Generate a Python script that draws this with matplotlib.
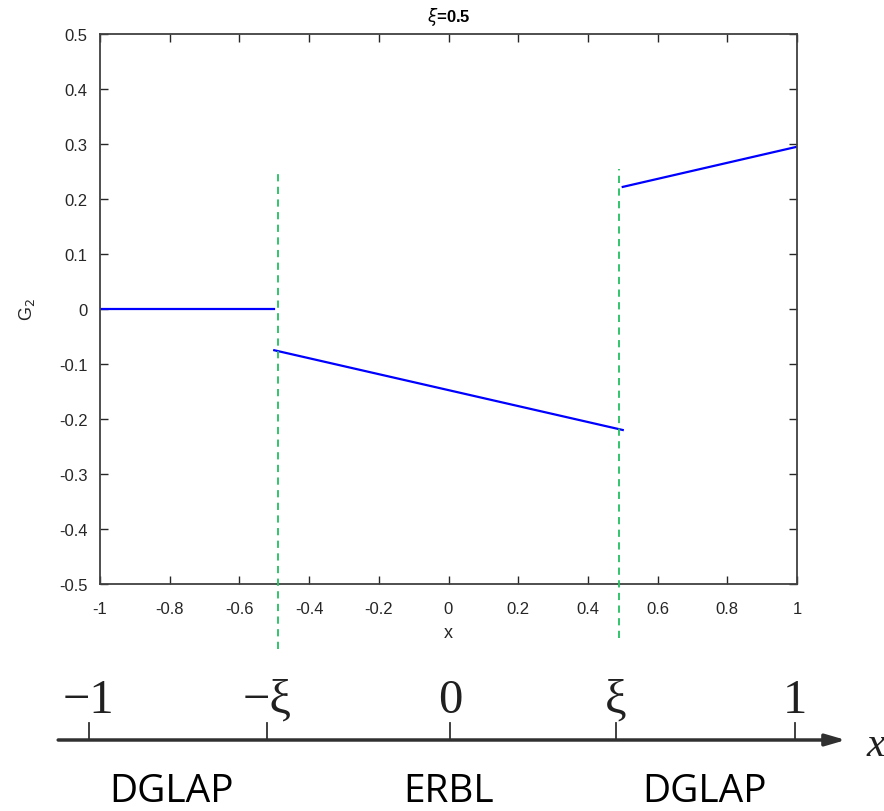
import matplotlib
matplotlib.use("Agg")
import matplotlib.pyplot as plt
import numpy as np

# ---- data ----
seg_dglap_neg_x = [-1.0, -0.5]
seg_dglap_neg_y = [0.0, 0.0]
seg_erbl_x = [-0.5, 0.5]
seg_erbl_y = [-0.075, -0.22]
seg_dglap_pos_x = [0.5, 1.0]
seg_dglap_pos_y = [0.222, 0.295]
xi_lines_x = [-0.49, 0.49]
xi_lines_top = [0.255, 0.255]
xi_lines_bottom = [-0.618, -0.598]
xticks = np.round(np.arange(-1, 1.01, 0.2), 1)
yticks = np.round(np.arange(-0.5, 0.51, 0.1), 1)
title = r"$\mathit{\xi}$=0.5"

schem_pos = [-1.032, -0.521, 0.004, 0.481, 0.994]
schem_labels = ["−1", "−ξ", "0", "ξ", "1"]
region_pos = [-0.795, 0.0, 0.735]
region_labels = ["DGLAP", "ERBL", "DGLAP"]

W, H = 884, 812
fig = plt.figure(figsize=(W / 100, H / 100), dpi=100)
ax = fig.add_axes([100 / W, 227 / H, 697 / W, 550 / H])

def fmt(v):
    s = f"{v:g}"
    return "0" if s in ("-0", "0") else s

ax.plot(seg_dglap_neg_x, seg_dglap_neg_y, color="#0000ff", lw=1.6)
ax.plot(seg_erbl_x, seg_erbl_y, color="#0000ff", lw=1.6)
ax.plot(seg_dglap_pos_x, seg_dglap_pos_y, color="#0000ff", lw=1.6)
for xv, yt, yb in zip(xi_lines_x, xi_lines_top, xi_lines_bottom):
    ax.plot([xv, xv], [yb, yt], color="#22c060", lw=1.3, ls=(0, (4, 3)), clip_on=False, zorder=5)

ax.set_xlim(-1, 1)
ax.set_ylim(-0.5, 0.5)
ax.set_xticks(xticks)
ax.set_xticklabels([fmt(v) for v in xticks])
ax.set_yticks(yticks)
ax.set_yticklabels([fmt(v) for v in yticks])
ax.tick_params(direction="in", length=6, width=1, top=True, right=True,
               labelsize=12, colors="#262626")
ax.tick_params(axis="x", pad=12)
ax.tick_params(axis="y", pad=9)
for sp in ax.spines.values():
    sp.set_color("#404040")
    sp.set_linewidth(1.3)
ax.set_xlabel("x", fontsize=13, color="#262626", labelpad=6, family="Liberation Sans")
ax.set_ylabel("G$_2$", fontsize=13, color="#262626", labelpad=16, family="Liberation Sans")
ax.set_title(title, fontsize=12, fontweight="bold", pad=9, family="Liberation Sans")
for lab in ax.get_xticklabels() + ax.get_yticklabels():
    lab.set_family("Liberation Sans")

# ---- schematic axis ----
ax2 = fig.add_axes([100 / W, 0, 697 / W, 150 / H])
ax2.set_xlim(-1, 1)
ax2.set_ylim(0, 150)
ax2.axis("off")
ax2.annotate("", xy=(1.140, 71), xytext=(-1.12, 71),
             arrowprops=dict(arrowstyle="-|>,head_length=1.2,head_width=0.35",
                             color="#303030", lw=2.5, shrinkA=0, shrinkB=0),
             annotation_clip=False)
for p, lab in zip(schem_pos, schem_labels):
    ax2.plot([p, p], [71, 88], color="#303030", lw=1.3, clip_on=False)
    ax2.text(p, 111, lab, ha="center", va="center", fontsize=35,
             family="Liberation Serif", color="#202020", clip_on=False)
ax2.text(1.225, 66, "x", ha="center", va="center", fontsize=30, style="italic",
         family="Liberation Serif", color="#202020", clip_on=False)
for p, lab in zip(region_pos, region_labels):
    ax2.text(p, 20, lab, ha="center", va="center", fontsize=28,
             family="Open Sans", color="black", clip_on=False)

fig.savefig("out.png", dpi=100)
